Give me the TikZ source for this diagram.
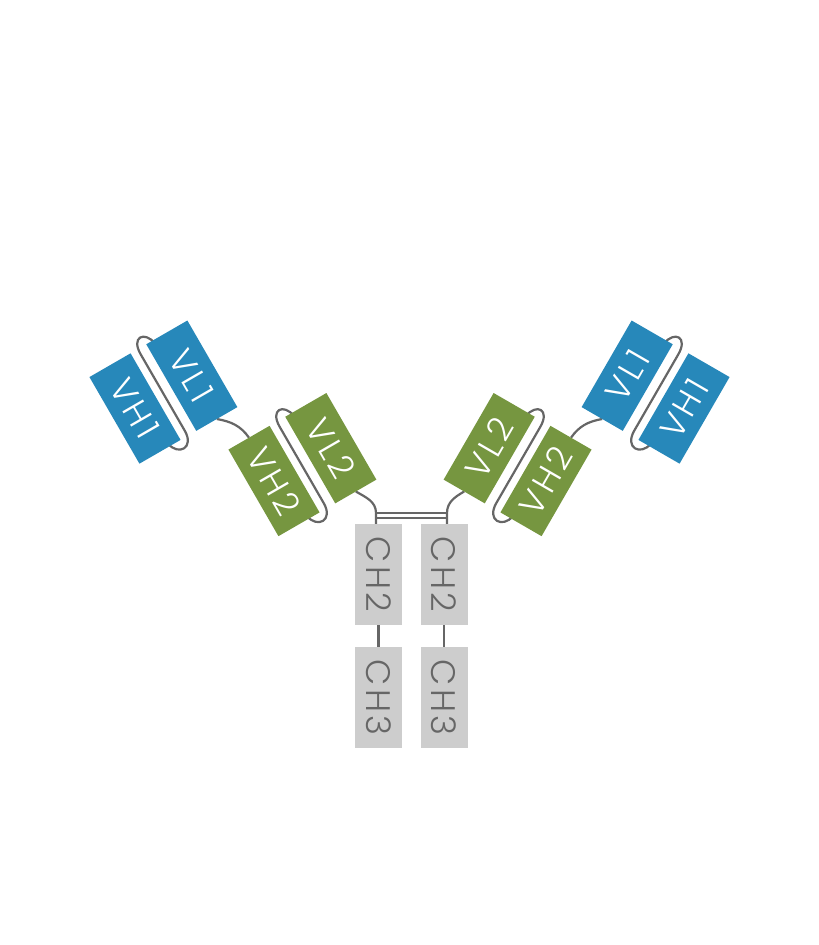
\documentclass[tikz,border=0pt]{standalone}
\usepackage{fontspec}
\IfFontExistsTF{Poppins Light}{\setmainfont{Poppins Light}[LetterSpace=10]}{\setmainfont{Poppins}[LetterSpace=10]}
\usetikzlibrary{backgrounds}
\definecolor{vblue}{HTML}{2788BA}
\definecolor{vgreen}{HTML}{769640}
\definecolor{cgray}{HTML}{CDCDCD}
\definecolor{tgray}{HTML}{666666}
\definecolor{lgray}{HTML}{666666}
\tikzset{
  dombox/.style={minimum width=47.5pt, minimum height=100pt, inner sep=0pt, outer sep=0pt,
    font=\fontsize{34}{34}\selectfont, text=white},
  bluebox/.style={dombox, fill=vblue},
  greenbox/.style={dombox, fill=vgreen},
  chbox/.style={dombox, minimum width=47pt, minimum height=101pt, fill=cgray, text=tgray},
  link/.style={draw=lgray, line width=2.2pt},
}
\begin{document}
\begin{tikzpicture}[x=1pt,y=1pt]
\useasboundingbox (0,0) rectangle (819,945);
% left arm
\node[bluebox, rotate=30] (vh1l) at (135,536.5) {\rotatebox{-90}{VH1}};
\node[bluebox, rotate=30] (vl1l) at (191.81,569.3) {\rotatebox{-90}{VL1}};
\node[greenbox, rotate=30] (vh2l) at (274,464) {\rotatebox{-90}{VH2}};
\node[greenbox, rotate=30] (vl2l) at (330.81,496.8) {\rotatebox{-90}{VL2}};
% right arm
\node[bluebox, rotate=-30] (vh1r) at (684,536.5) {\rotatebox{90}{VH1}};
\node[bluebox, rotate=-30] (vl1r) at (627.19,569.3) {\rotatebox{90}{VL1}};
\node[greenbox, rotate=-30] (vh2r) at (546,464) {\rotatebox{90}{VH2}};
\node[greenbox, rotate=-30] (vl2r) at (489.19,496.8) {\rotatebox{90}{VL2}};
% Fc
\node[chbox] (ch2l) at (378.5,370.5) {\rotatebox{-90}{CH2}};
\node[chbox] (ch3l) at (378.5,247.5) {\rotatebox{-90}{CH3}};
\node[chbox] (ch2r) at (444,370.5) {\rotatebox{-90}{CH2}};
\node[chbox] (ch3r) at (444,247.5) {\rotatebox{-90}{CH3}};
\coordinate (jl) at (376,432);
\coordinate (jr) at (447,432);
\begin{scope}[on background layer]
  % linkers left
  \begin{scope}[shift={(vh1l.center)}, rotate=30]
    \draw[link] (50,46) .. controls (47,63) and (32,64) .. (32,44) -- (32,-44) .. controls (32,-64) and (14,-63) .. (11,-47);
  \end{scope}
  \begin{scope}[shift={(vh2l.center)}, rotate=30]
    \draw[link] (50,46) .. controls (47,63) and (32,64) .. (32,44) -- (32,-44) .. controls (32,-64) and (14,-63) .. (11,-47);
  \end{scope}
  % linkers right
  \begin{scope}[shift={(vh1r.center)}, rotate=-30, xscale=-1]
    \draw[link] (50,46) .. controls (47,63) and (32,64) .. (32,44) -- (32,-44) .. controls (32,-64) and (14,-63) .. (11,-47);
  \end{scope}
  \begin{scope}[shift={(vh2r.center)}, rotate=-30, xscale=-1]
    \draw[link] (50,46) .. controls (47,63) and (32,64) .. (32,44) -- (32,-44) .. controls (32,-64) and (14,-63) .. (11,-47);
  \end{scope}
  % hinges
  \draw[link] (vl1l.south) to[out=-10,in=125] (vh2l.north);
  \draw[link] (vl1r.south) to[out=190,in=55] (vh2r.north);
  \draw[link] (vl2l.south) to[out=-30,in=90] (jl) -- (jl |- ch2l.north);
  \draw[link] (vl2r.south) to[out=210,in=90] (jr) -- (jr |- ch2r.north);
  % disulfide bonds
  \draw[link] (jl) -- (jr);
  \draw[link] ([yshift=-5pt]jl) -- ([yshift=-5pt]jr);
  % CH2-CH3
  \draw[link] (ch2l) -- (ch3l);
  \draw[link] (ch2r) -- (ch3r);
\end{scope}
\end{tikzpicture}
\end{document}
